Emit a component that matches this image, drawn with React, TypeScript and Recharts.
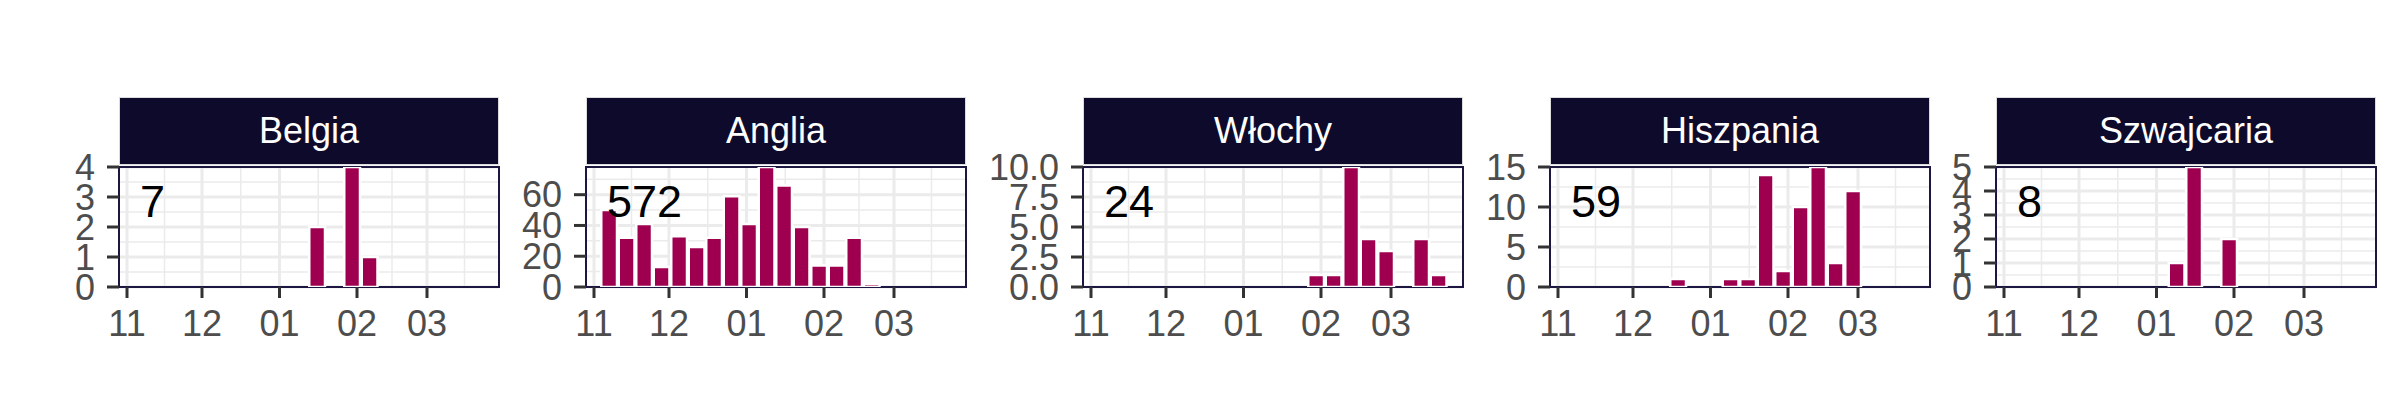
import React from "react";
import { BarChart, Bar, XAxis, YAxis, CartesianGrid, ReferenceArea } from "recharts";

// weekly bins (mid-week date), Nov 2018 - Mar 2019
const weeks = [
  "2018-11-07", "2018-11-14", "2018-11-21", "2018-11-28",
  "2018-12-05", "2018-12-12", "2018-12-19", "2018-12-26",
  "2019-01-02", "2019-01-09", "2019-01-16", "2019-01-23", "2019-01-30",
  "2019-02-06", "2019-02-13", "2019-02-20", "2019-02-27",
  "2019-03-06", "2019-03-13", "2019-03-20",
];
const monthTicks = ["2018-11-01", "2018-12-01", "2019-01-01", "2019-02-01", "2019-03-01"];
const monthLabels = ["11", "12", "01", "02", "03"];

const countries = ["Belgia", "Anglia", "Włochy", "Hiszpania", "Szwajcaria"];
const totals = [7, 572, 24, 59, 8];

const belgia = [0, 0, 0, 0, 0, 0, 0, 0, 0, 0, 2, 0, 4, 1, 0, 0, 0, 0, 0, 0];
const anglia = [50, 32, 41, 13, 33, 26, 32, 59, 41, 78, 66, 39, 14, 14, 32, 2, 0, 0, 0, 0];
const wlochy = [0, 0, 0, 0, 0, 0, 0, 0, 0, 0, 0, 0, 1, 1, 10, 4, 3, 0, 4, 1];
const hiszpania = [0, 0, 0, 0, 0, 0, 1, 0, 0, 1, 1, 14, 2, 10, 15, 3, 12, 0, 0, 0];
const szwajcaria = [0, 0, 0, 0, 0, 0, 0, 0, 0, 1, 5, 0, 2, 0, 0, 0, 0, 0, 0, 0];

const yTicksBelgia = [0, 1, 2, 3, 4];
const yTicksAnglia = [0, 20, 40, 60];
const yTicksWlochy = [0, 2.5, 5, 7.5, 10];
const yTicksHiszpania = [0, 5, 10, 15];
const yTicksSzwajcaria = [0, 1, 2, 3, 4, 5];
const yMax = [4, 78, 10, 15, 5];
const yDecimals = [0, 0, 1, 0, 0];

const seriesList = [belgia, anglia, wlochy, hiszpania, szwajcaria];
const yTicksList = [yTicksBelgia, yTicksAnglia, yTicksWlochy, yTicksHiszpania, yTicksSzwajcaria];

const ORIGIN = Date.parse("2018-11-01");
const toDay = (s: string) => (Date.parse(s) - ORIGIN) / 86400000;
const majorX = monthTicks.map(toDay);
const minorX = majorX.slice(1).map((v, i) => (v + majorX[i]) / 2);
minorX.push(majorX[majorX.length - 1] + (majorX[4] - majorX[3]) / 2 + 1);
const X_DOMAIN: [number, number] = [-3.2, 148.8];

const panelLefts = [119, 586, 1083, 1550, 1996];
const PLOT_W = 380;
const PLOT_TOP = 167;
const PLOT_H = 120;
const AXIS_W = 110;
const TOP_PAD = 30;
const FONT = "'Liberation Sans', Arial, Helvetica, sans-serif";

function Panel({ idx }: { idx: number }) {
  const values = seriesList[idx];
  const data = weeks.map((w, i) => ({ d: toDay(w), n: values[i] }));
  const ticks = yTicksList[idx];
  const max = yMax[idx];
  const minorY = ticks.slice(1).map((v, i) => (v + ticks[i]) / 2);
  const step = ticks[1] - ticks[0];
  if (ticks[ticks.length - 1] + step / 2 < max) minorY.push(ticks[ticks.length - 1] + step / 2);
  const left = panelLefts[idx];

  return (
    <>
      <div style={{ position: "absolute", left: left - AXIS_W, top: PLOT_TOP - TOP_PAD }}>
        <BarChart
          width={AXIS_W + PLOT_W + 10}
          height={TOP_PAD + PLOT_H + 60}
          data={data}
          margin={{ top: TOP_PAD, right: 10, bottom: 0, left: 0 }}
        >
          <CartesianGrid
            horizontalValues={minorY}
            verticalValues={minorX}
            stroke="#ebebeb"
            strokeWidth={1.5}
          />
          <CartesianGrid
            horizontalValues={ticks}
            verticalValues={majorX}
            stroke="#ebebeb"
            strokeWidth={3}
          />
          <XAxis
            type="number"
            dataKey="d"
            domain={X_DOMAIN}
            allowDataOverflow
            ticks={majorX}
            interval={0}
            tickFormatter={(v: number) => monthLabels[majorX.indexOf(v)]}
            axisLine={false}
            tickSize={11}
            tickMargin={12}
            tickLine={{ stroke: "#333333", strokeWidth: 3 }}
            tick={{ fill: "#4d4d4d", fontSize: 36, fontFamily: FONT }}
            height={60}
          />
          <YAxis
            type="number"
            domain={[0, max]}
            allowDataOverflow
            ticks={ticks}
            interval={0}
            tickFormatter={(v: number) => v.toFixed(yDecimals[idx])}
            axisLine={false}
            tickSize={12}
            tickMargin={12}
            tickLine={{ stroke: "#333333", strokeWidth: 3 }}
            tick={{ fill: "#4d4d4d", fontSize: 36, fontFamily: FONT }}
            width={AXIS_W}
          />
          <Bar
            dataKey="n"
            fill="#9e004f"
            stroke="#ffffff"
            strokeWidth={2.5}
            barSize={17.5}
            isAnimationActive={false}
          />
          <ReferenceArea
            x1={X_DOMAIN[0]}
            x2={X_DOMAIN[1]}
            y1={0}
            y2={max}
            fill="none"
            stroke="#1b1740"
            strokeWidth={2}
            ifOverflow="visible"
          />
        </BarChart>
      </div>
      <div
        style={{
          position: "absolute",
          left: left,
          top: 97,
          width: PLOT_W,
          height: 68,
          boxSizing: "border-box",
          border: "1px solid #dcdcdc",
          background: "#0e0a2b",
          color: "#ffffff",
          fontFamily: FONT,
          fontSize: 36,
          lineHeight: "66px",
          textAlign: "center",
        }}
      >
        {countries[idx]}
      </div>
      <div
        style={{
          position: "absolute",
          left: left + 21,
          top: 179,
          fontFamily: FONT,
          fontSize: 45,
          lineHeight: "45px",
          color: "#000000",
        }}
      >
        {totals[idx]}
      </div>
    </>
  );
}

export default function App() {
  return (
    <div
      style={{
        position: "absolute",
        left: 0,
        top: 0,
        width: 2400,
        height: 420,
        background: "#ffffff",
        overflow: "hidden",
      }}
    >
      {countries.map((c, i) => (
        <Panel key={c} idx={i} />
      ))}
    </div>
  );
}
